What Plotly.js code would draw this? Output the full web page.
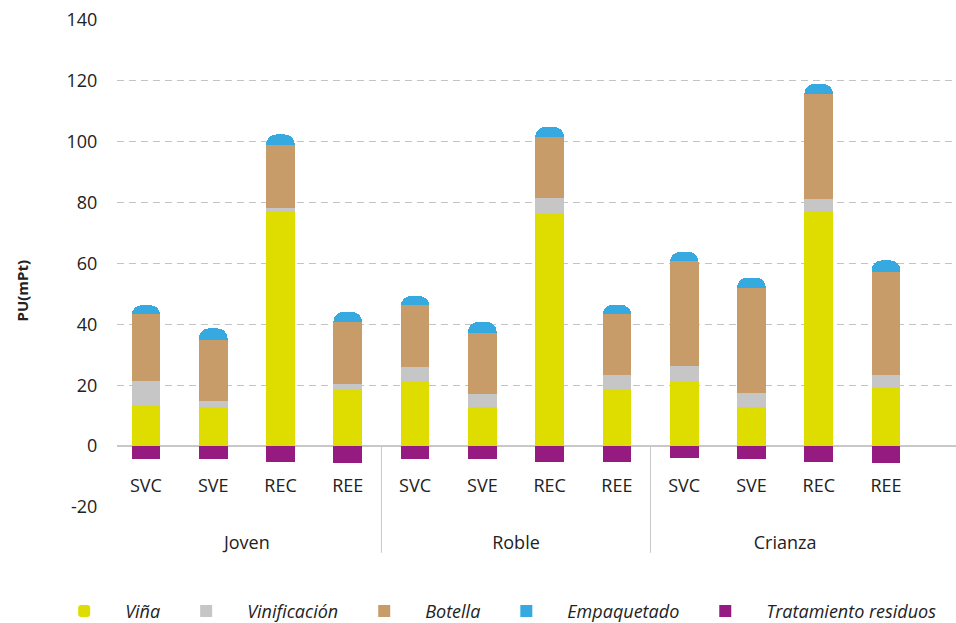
<!DOCTYPE html>
<html><head><meta charset="utf-8">
<script src="https://cdn.plot.ly/plotly-3.0.1.min.js"></script>
<style>html,body{margin:0;padding:0;background:#fff;}#chart{width:956px;height:623px;}</style>
</head><body><div id="chart"></div>
<script>
// ---- data ----
const groups = ['Joven', 'Roble', 'Crianza'];
const systems = ['SVC', 'SVE', 'REC', 'REE'];
const seriesNames = ['Viña', 'Vinificación', 'Botella', 'Empaquetado', 'Tratamiento residuos'];
const vina         = [13.4, 12.7, 77.1, 18.7,  21.3, 12.7, 76.7, 18.7,  21.3, 12.7, 77.1, 19.1];
const vinificacion = [ 7.9,  2.0,  1.3,  1.6,   4.6,  4.3,  4.9,  4.6,   5.0,  4.7,  4.2,  4.2];
const botella      = [22.1, 20.2, 20.4, 20.5,  20.4, 20.1, 20.0, 20.1,  34.6, 34.7, 34.3, 34.0];
const empaquetado  = [ 2.9,  3.8,  3.6,  3.3,   3.0,  3.7,  3.3,  3.0,   2.9,  3.3,  3.4,  3.7];
const tratamiento  = [-4.1, -4.1, -5.1, -5.4,  -4.2, -4.2, -5.1, -5.1,  -3.8, -4.3, -5.1, -5.5];
const yTicks = [-20, 0, 20, 40, 60, 80, 100, 120, 140];
const colors = ['#dfdc00', '#c6c6c6', '#c89c68', '#36a9e1', '#951b81'];

// ---- build ----
const keys = [], labels = [];
groups.forEach(g => systems.forEach(s => { keys.push(g + '|' + s); labels.push(s); }));
const values = [vina, vinificacion, botella, empaquetado, tratamiento];

const traces = values.map((v, i) => {
  const t = {
    type: 'bar', name: seriesNames[i], x: keys, y: v,
    marker: {color: colors[i]},
    hoverinfo: 'name+y'
  };
  if (i === 0) t.marker.cornerradius = 10;
  if (i === 4) t.base = 0;   // drawn from zero downwards, outside the stack
  return t;
});
// empty helper trace so the group-label axis is drawn
traces.push({type: 'scatter', x: [], y: [], xaxis: 'x2', yaxis: 'y', showlegend: false, hoverinfo: 'skip'});

const xr = [-0.43, 12.04];
const yBottom = yTicks[0], yTop = yTicks[yTicks.length - 1];
const zeroFrac = (0 - yBottom) / (yTop - yBottom);
const shapes = [];
for (let g = 1; g < groups.length; g++) {
  const xf = (g * systems.length - 0.5 - xr[0]) / (xr[1] - xr[0]);
  shapes.push({type: 'line', xref: 'paper', yref: 'paper', x0: xf, x1: xf, y0: zeroFrac, y1: -0.094,
    line: {color: '#c8c8c8', width: 1}});
}

const tickFont = {family: 'Open Sans, sans-serif', size: 18, color: '#222'};
const layout = {
  width: 956, height: 623,
  margin: {l: 117, r: 0, t: 20, b: 116, autoexpand: false},
  paper_bgcolor: '#fff', plot_bgcolor: '#fff',
  barmode: 'stack', bargap: 0.573,
  showlegend: true,
  legend: {orientation: 'h', x: -0.088, xanchor: 'left', y: -0.176, yanchor: 'top',
    itemwidth: 72, traceorder: 'normal',
    font: {family: 'Open Sans, sans-serif', size: 18, color: '#222', style: 'italic'}},
  xaxis: {type: 'category', range: xr, tickvals: keys, ticktext: labels,
    anchor: 'free', position: zeroFrac, showline: false, showgrid: false, zeroline: false,
    ticks: 'outside', ticklen: 23, tickcolor: 'rgba(0,0,0,0)', tickfont: tickFont},
  xaxis2: {overlaying: 'x', anchor: 'y', side: 'bottom', range: xr, type: 'linear',
    tickmode: 'array',
    tickvals: groups.map((g, i) => i * systems.length + (systems.length - 1) / 2),
    ticktext: groups, showline: false, showgrid: false, zeroline: false,
    ticks: 'outside', ticklen: 19, tickcolor: 'rgba(0,0,0,0)', tickfont: tickFont},
  yaxis: {range: [yBottom, yTop], tickmode: 'array', tickvals: yTicks,
    ticktext: yTicks.map(v => String(v)), showline: false,
    gridcolor: '#c4c4c4', gridwidth: 1, griddash: '7px,5px',
    zeroline: true, zerolinecolor: '#c8c8c8', zerolinewidth: 2,
    ticks: 'outside', ticklen: 15, tickcolor: 'rgba(0,0,0,0)', tickfont: tickFont},
  annotations: [{text: '<b>PU(mPt)</b>', xref: 'paper', yref: 'paper',
    x: -0.113, y: 0.445, xanchor: 'center', yanchor: 'middle', textangle: -90, showarrow: false,
    font: {family: 'Open Sans, sans-serif', size: 15, color: '#222'}}],
  shapes: shapes
};

Plotly.newPlot('chart', traces, layout, {displayModeBar: false, responsive: false});
</script>
</body></html>
